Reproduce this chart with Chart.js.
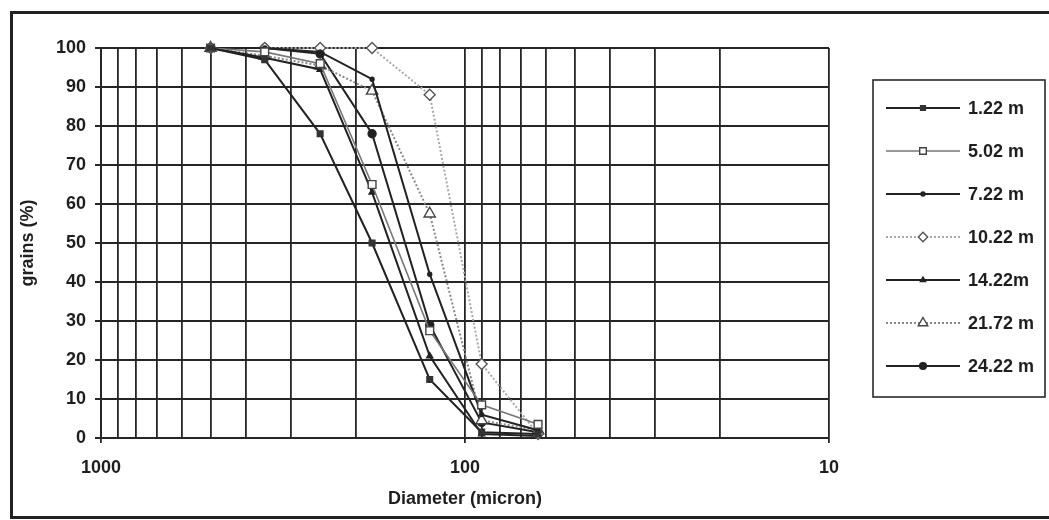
<!DOCTYPE html>
<html><head><meta charset="utf-8">
<script src="https://cdn.jsdelivr.net/npm/chart.js@4.4.0/dist/chart.umd.min.js"></script>
<style>html,body{margin:0;padding:0;background:#fff;overflow:hidden}#wrap{width:1049px;height:520px;position:relative}</style>
</head><body><div id="wrap"><canvas id="c" width="1049" height="520"></canvas></div>
<script>
// ---- data ----
const diameters = [500, 355, 250, 180, 125, 90, 63];
const seriesLabels = ['1.22 m', '5.02 m', '7.22 m', '10.22 m', '14.22m', '21.72 m', '24.22 m'];
const s1_22 = [100, 97, 78, 50, 15, 1.5, 1];
const s5_02 = [100, 99, 96, 65, 27.5, 8.5, 3.5];
const s7_22 = [100, 100, 99, 92, 42, 6, 2];
const s10_22 = [100, 100, 100, 100, 88, 19, 1];
const s14_22 = [100, 97.5, 94.5, 63, 21, 1, 0.5];
const s21_72 = [100, 98, 95.5, 89, 57.5, 4.5, 2];
const s24_22 = [100, 100, 98.5, 78, 29, 4, 1.5];
const xGridValues = [10, 20, 30, 40, 50, 60, 70, 80, 90, 100, 200, 300, 400, 500, 600, 700, 800, 900, 1000];
const xLabelValues = [1000, 100, 10];
const yTickStep = 10;
const xTitle = 'Diameter (micron)';
const yTitle = 'grains (%)';

const seriesValues = [s1_22, s5_02, s7_22, s10_22, s14_22, s21_72, s24_22];
const styles = [
  {line:'#222', w:2,   dash:[],    ps:'rect',     r:4,   bg:'#333', bc:'#333'},
  {line:'#777', w:1.6, dash:[],    ps:'rect',     r:5.5, bg:'#fff', bc:'#444'},
  {line:'#222', w:2,   dash:[],    ps:'circle',   r:2,   bg:'#222', bc:'#222'},
  {line:'#a8a8a8', w:2, dash:[2,2], ps:'rectRot', r:5.5, bg:'#fff', bc:'#555'},
  {line:'#222', w:2,   dash:[],    ps:'triangle', r:3.5, bg:'#222', bc:'#222'},
  {line:'#888', w:2,   dash:[2,2], ps:'triangle', r:6.5, bg:'#fff', bc:'#444'},
  {line:'#222', w:2,   dash:[],    ps:'circle',   r:4,   bg:'#222', bc:'#222'}
];

const datasets = seriesLabels.map((lab, i) => ({
  label: lab,
  data: diameters.map((d, j) => ({x: d, y: seriesValues[i][j]})),
  showLine: true,
  borderColor: styles[i].line,
  borderWidth: styles[i].w,
  borderDash: styles[i].dash,
  pointStyle: styles[i].ps,
  pointRadius: styles[i].r,
  pointBackgroundColor: styles[i].bg,
  pointBorderColor: styles[i].bc,
  pointBorderWidth: 1.4,
  tension: 0,
  clip: false
}));

Chart.defaults.font.family = "'Liberation Sans', Arial, sans-serif";
Chart.defaults.color = '#1e1e1e';

const framePlugin = {
  id: 'frame',
  beforeDraw(chart) {
    const ctx = chart.ctx;
    ctx.save();
    ctx.fillStyle = '#fff';
    ctx.fillRect(0, 0, chart.width, chart.height);
    ctx.strokeStyle = '#222';
    ctx.lineWidth = 3;
    ctx.strokeRect(11.5, 12.5, 1060, 505);
    ctx.restore();
  }
};

const legendPlugin = {
  id: 'boxLegend',
  afterDraw(chart) {
    const ctx = chart.ctx;
    ctx.save();
    ctx.strokeStyle = '#2a2a2a';
    ctx.lineWidth = 1.6;
    ctx.strokeRect(873, 80, 172, 317);
    const ys = [108, 151, 194, 237, 280, 323, 366];
    chart.data.datasets.forEach((ds, i) => {
      const y = ys[i];
      ctx.save();
      ctx.strokeStyle = ds.borderColor;
      ctx.lineWidth = ds.borderWidth;
      ctx.setLineDash(ds.borderDash || []);
      ctx.beginPath();
      ctx.moveTo(886, y); ctx.lineTo(960, y);
      ctx.stroke();
      ctx.setLineDash([]);
      ctx.fillStyle = ds.pointBackgroundColor;
      ctx.strokeStyle = ds.pointBorderColor;
      ctx.lineWidth = ds.pointBorderWidth;
      Chart.helpers.drawPoint(ctx, {pointStyle: ds.pointStyle, rotation: 0, radius: Math.max(2, ds.pointRadius * 0.85), borderWidth: ds.pointBorderWidth}, 923, y);
      ctx.restore();
      ctx.fillStyle = '#1e1e1e';
      ctx.font = "bold 18px 'Liberation Sans', Arial, sans-serif";
      ctx.textBaseline = 'middle';
      ctx.textAlign = 'left';
      ctx.fillText(ds.label, 968, y + 1);
    });
    ctx.restore();
  }
};

new Chart(document.getElementById('c'), {
  type: 'scatter',
  data: {datasets},
  plugins: [framePlugin, legendPlugin],
  options: {
    responsive: false,
    animation: false,
    devicePixelRatio: 1,
    layout: {padding: {left: 10, right: 220, top: 48, bottom: 10}},
    plugins: {legend: {display: false}, tooltip: {enabled: false}},
    scales: {
      x: {
        type: 'logarithmic',
        reverse: true,
        min: 10, max: 1000,
        afterBuildTicks(scale) { scale.ticks = xGridValues.map(v => ({value: v, major: xLabelValues.includes(v)})); },
        afterFit(scale) { scale.height = 72; },
        ticks: {
          autoSkip: false, maxRotation: 0, minRotation: 0, padding: 14,
          font: {size: 18, weight: 'bold'}, color: '#1e1e1e',
          callback: (v) => xLabelValues.includes(v) ? String(v) : ''
        },
        grid: {
          color: '#262626', lineWidth: 1.8, tickLength: 5,
          tickColor: (c) => (c.tick && xLabelValues.includes(c.tick.value)) ? '#262626' : 'rgba(0,0,0,0)'
        },
        border: {color: '#262626', width: 2},
        title: {display: true, text: xTitle, font: {size: 18, weight: 'bold'}, color: '#1e1e1e', padding: {top: 0, bottom: 0}}
      },
      y: {
        min: 0, max: 100,
        afterFit(scale) { scale.width = 91; },
        ticks: {stepSize: yTickStep, padding: 9, font: {size: 18, weight: 'bold'}, color: '#1e1e1e'},
        grid: {color: '#262626', lineWidth: 2, tickLength: 6, tickColor: '#262626'},
        border: {color: '#262626', width: 2},
        title: {display: true, text: yTitle, font: {size: 18, weight: 'bold'}, color: '#1e1e1e', padding: {top: 7, bottom: 0}}
      }
    }
  }
});
</script></body></html>
